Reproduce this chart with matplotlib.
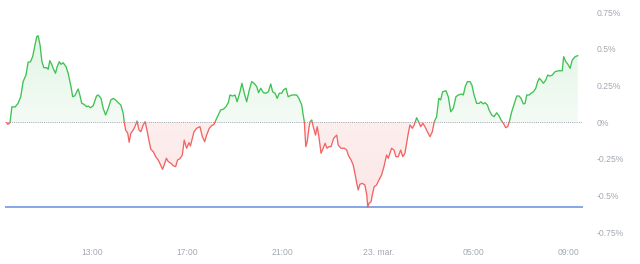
#!/usr/bin/env python3
"""Intraday % change line, green above zero / red below, saved to out.png."""

import matplotlib

matplotlib.use("Agg")
import matplotlib.pyplot as plt
import numpy as np
from matplotlib.colors import LinearSegmentedColormap
from matplotlib.patches import Rectangle
from matplotlib.path import Path

# hours since 00:00 on 22 March (values > 24 are on 23 March)
HOURS = [
    9.41, 9.46, 9.55, 9.63, 9.76, 9.89, 10.00, 10.10, 10.22, 10.31,
    10.41, 10.50, 10.60, 10.67, 10.73, 10.81, 10.89, 10.97, 11.09, 11.15,
    11.22, 11.30, 11.36, 11.46, 11.53, 11.62, 11.69, 11.78, 11.90, 11.99,
    12.11, 12.18, 12.27, 12.41, 12.48, 12.56, 12.65, 12.77, 12.83, 12.93,
    13.04, 13.18, 13.25, 13.37, 13.46, 13.56, 13.67, 13.78, 13.88, 13.98,
    14.09, 14.20, 14.30, 14.34, 14.40, 14.49, 14.55, 14.62, 14.72, 14.79,
    14.88, 14.96, 15.04, 15.14, 15.22, 15.31, 15.39, 15.46, 15.56, 15.66,
    15.77, 15.87, 15.95, 16.02, 16.11, 16.19, 16.30, 16.40, 16.50, 16.58,
    16.68, 16.78, 16.86, 16.96, 17.06, 17.12, 17.18, 17.27, 17.38, 17.52,
    17.62, 17.72, 17.80, 17.91, 18.01, 18.11, 18.19, 18.29, 18.39, 18.50,
    18.61, 18.71, 18.78, 18.89, 18.99, 19.08, 19.20, 19.28, 19.38, 19.48,
    19.59, 19.69, 19.79, 19.90, 19.98, 20.07, 20.18, 20.29, 20.39, 20.49,
    20.57, 20.67, 20.76, 20.85, 20.95, 21.02, 21.13, 21.22, 21.37, 21.58,
    21.67, 21.79, 21.85, 21.90, 21.96, 22.02, 22.09, 22.14, 22.21, 22.29,
    22.37, 22.44, 22.51, 22.60, 22.69, 22.77, 22.85, 22.93, 23.02, 23.13,
    23.26, 23.32, 23.44, 23.58, 23.68, 23.74, 23.86, 23.95, 24.02, 24.10,
    24.16, 24.23, 24.33, 24.44, 24.52, 24.56, 24.61, 24.70, 24.75, 24.83,
    24.93, 25.03, 25.14, 25.24, 25.35, 25.42, 25.49, 25.56, 25.66, 25.74,
    25.84, 25.94, 26.03, 26.12, 26.19, 26.26, 26.33, 26.43, 26.51, 26.61,
    26.71, 26.78, 26.87, 26.96, 27.06, 27.17, 27.27, 27.35, 27.45, 27.54,
    27.62, 27.70, 27.84, 27.94, 28.04, 28.15, 28.26, 28.36, 28.50, 28.57,
    28.65, 28.74, 28.85, 28.93, 29.02, 29.13, 29.23, 29.31, 29.40, 29.48,
    29.58, 29.65, 29.76, 29.86, 29.97, 30.07, 30.15, 30.25, 30.35, 30.43,
    30.50, 30.60, 30.71, 30.81, 30.91, 30.99, 31.09, 31.16, 31.23, 31.33,
    31.41, 31.51, 31.61, 31.69, 31.76, 31.83, 31.93, 32.03, 32.11, 32.21,
    32.30, 32.42, 32.56, 32.72, 32.78, 32.87, 32.95, 33.05, 33.14, 33.26,
    33.37,
]

CHANGE_PCT = [
    -0.003, -0.014, -0.003, 0.106, 0.104, 0.129, 0.174, 0.277, 0.322, 0.409,
    0.413, 0.447, 0.527, 0.583, 0.590, 0.527, 0.413, 0.372, 0.372, 0.361,
    0.420, 0.395, 0.368, 0.334, 0.379, 0.413, 0.395, 0.406, 0.379, 0.334,
    0.243, 0.174, 0.181, 0.227, 0.186, 0.129, 0.123, 0.106, 0.111, 0.099,
    0.113, 0.179, 0.186, 0.163, 0.095, 0.050, 0.095, 0.152, 0.163, 0.152,
    0.134, 0.118, 0.061, 0.004, -0.052, -0.075, -0.136, -0.075, -0.052, -0.030,
    0.009, -0.052, -0.064, -0.018, 0.004, -0.064, -0.132, -0.184, -0.200, -0.234,
    -0.257, -0.291, -0.320, -0.291, -0.245, -0.268, -0.279, -0.296, -0.302, -0.257,
    -0.248, -0.223, -0.121, -0.177, -0.139, -0.161, -0.121, -0.064, -0.041, -0.030,
    -0.098, -0.132, -0.087, -0.041, -0.023, -0.014, 0.016, 0.050, 0.084, 0.089,
    0.106, 0.134, 0.186, 0.179, 0.186, 0.140, 0.208, 0.266, 0.198, 0.140,
    0.220, 0.277, 0.266, 0.243, 0.202, 0.232, 0.202, 0.198, 0.208, 0.261,
    0.208, 0.198, 0.163, 0.198, 0.198, 0.220, 0.232, 0.174, 0.186, 0.186,
    0.163, 0.118, 0.050, 0.004, -0.166, -0.132, -0.041, 0.004, 0.016, -0.041,
    -0.087, -0.030, -0.098, -0.211, -0.177, -0.143, -0.177, -0.166, -0.166, -0.109,
    -0.087, -0.155, -0.177, -0.177, -0.189, -0.223, -0.257, -0.291, -0.347, -0.416,
    -0.461, -0.422, -0.416, -0.427, -0.495, -0.579, -0.552, -0.541, -0.495, -0.439,
    -0.427, -0.393, -0.359, -0.302, -0.223, -0.245, -0.211, -0.177, -0.189, -0.234,
    -0.234, -0.189, -0.234, -0.211, -0.143, -0.075, -0.018, -0.041, -0.018, 0.031,
    -0.003, -0.030, -0.007, -0.030, -0.064, -0.098, -0.064, 0.004, 0.038, 0.163,
    0.152, 0.208, 0.215, 0.174, 0.072, 0.095, 0.174, 0.186, 0.193, 0.186,
    0.243, 0.277, 0.277, 0.254, 0.186, 0.129, 0.129, 0.140, 0.125, 0.134,
    0.118, 0.084, 0.050, 0.038, 0.065, 0.043, 0.016, -0.007, -0.037, -0.030,
    0.004, 0.072, 0.129, 0.179, 0.179, 0.163, 0.125, 0.129, 0.186, 0.186,
    0.198, 0.208, 0.232, 0.277, 0.300, 0.288, 0.266, 0.288, 0.322, 0.315,
    0.322, 0.345, 0.351, 0.351, 0.447, 0.413, 0.397, 0.368, 0.424, 0.447,
    0.454,
]

X_TICKS = [13, 17, 21, 25, 29, 33]
X_TICK_LABELS = ["13:00", "17:00", "21:00", "23. mar.", "05:00", "09:00"]
Y_TICKS = [-0.75, -0.5, -0.25, 0, 0.25, 0.5, 0.75]
Y_TICK_LABELS = ["-0.75%", "-0.5%", "-0.25%", "0%", "0.25%", "0.5%", "0.75%"]

GREEN = "#3ec253"
RED = "#f26464"
BLUE = "#7d9fe6"
LABEL_GREY = "#a3a9b2"


def gradient_fill(ax, x, y, mask, y0, y1, c0, c1):
    # shaded area between the line and zero, vertical gradient from y0 (c0) to y1 (c1)
    poly = ax.fill_between(x, y, 0, where=mask, interpolate=True,
                           facecolor="none", edgecolor="none")
    clip = Path.make_compound_path(*poly.get_paths())
    cmap = LinearSegmentedColormap.from_list("g", [c0, c1])
    grad = np.linspace(0, 1, 256).reshape(-1, 1)
    im = ax.imshow(grad, cmap=cmap, aspect="auto", origin="lower",
                   extent=[x.min(), x.max(), y0, y1], zorder=1)
    im.set_clip_path(clip, transform=ax.transData)


def main() -> None:
    x = np.array(HOURS)
    y = np.array(CHANGE_PCT)
    x_lo, x_hi = 9.34, 33.59

    fig = plt.figure(figsize=(6.4, 2.64), dpi=100)
    ax = fig.add_axes([0.0078, 0.1197, 0.9031, 0.8341])

    gradient_fill(ax, x, y, y >= 0, 0, 0.6, "#f4fbf5", "#e3f5e6")
    gradient_fill(ax, x, y, y <= 0, -0.6, 0, "#fce6e6", "#fdefee")

    ax.set_xlim(x_lo, x_hi)
    ax.set_ylim(-0.75, 0.75)

    ax.axhline(0, color="#9aa4ae", linewidth=0.7, linestyle=(0, (1, 1.2)), zorder=2)
    ax.axhline(y.min(), color=BLUE, linewidth=1.3, zorder=2)

    # one line, coloured by sign via clipping
    up, = ax.plot(x, y, color=GREEN, linewidth=0.95, zorder=3)
    down, = ax.plot(x, y, color=RED, linewidth=0.95, zorder=3)
    up.set_clip_path(Rectangle((x_lo, 0), x_hi - x_lo, 2, transform=ax.transData))
    down.set_clip_path(Rectangle((x_lo, -2), x_hi - x_lo, 2, transform=ax.transData))

    for side in ax.spines.values():
        side.set_visible(False)

    ax.set_xticks(X_TICKS)
    ax.set_xticklabels(X_TICK_LABELS)
    ax.yaxis.tick_right()
    ax.set_yticks(Y_TICKS)
    ax.set_yticklabels(Y_TICK_LABELS)
    for lbl in ax.get_yticklabels():
        lbl.set_horizontalalignment("left")
    ax.tick_params(axis="x", length=0, pad=11, labelsize=6.2, labelcolor=LABEL_GREY)
    ax.tick_params(axis="y", length=0, pad=10, labelsize=6.2, labelcolor=LABEL_GREY)
    for lbl in ax.get_xticklabels() + ax.get_yticklabels():
        lbl.set_fontfamily("Liberation Sans")

    fig.savefig("out.png", dpi=100)
    plt.close(fig)


if __name__ == "__main__":
    main()
